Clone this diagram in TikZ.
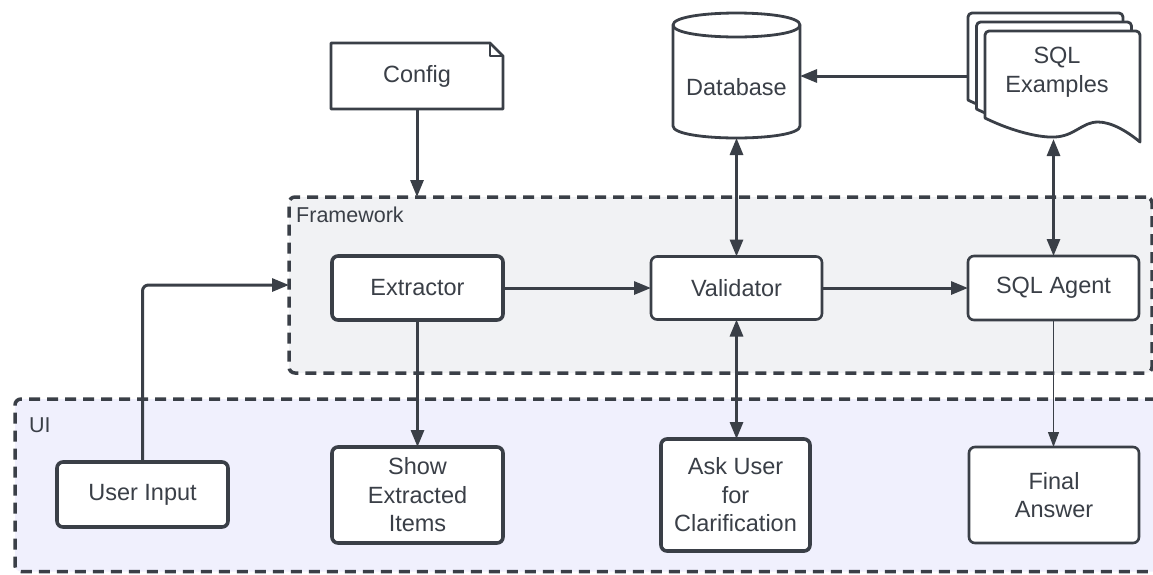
\documentclass[tikz,border=0pt]{standalone}
\usepackage{fontspec}
\setmainfont{Liberation Sans}
\usetikzlibrary{arrows.meta,calc}
\definecolor{ln}{HTML}{3A3F47}
\definecolor{fwfill}{HTML}{F1F2F4}
\definecolor{uifill}{HTML}{F0F0FD}
\newcommand\dgboxfont{\fontsize{23.5}{28.5}\selectfont}
\newcommand\dglblfont{\fontsize{21.5}{25}\selectfont}
\newcommand\dgdoc[2]{%
  \draw[shp, fill=white, shift={(#1,#2)}] (985,118) [rounded corners=4pt] -- (985,31) -- (1140,31) [sharp corners] -- (1140,142)
    .. controls (1128,132) and (1112,122) .. (1098,122)
    .. controls (1082,122) and (1075,136) .. (1055,137)
    .. controls (1035,138) and (1005,128) .. cycle;}
\begin{document}
\begin{tikzpicture}[x=1pt,y=-1pt,
  container/.style={draw=ln, line width=3.5pt, dash pattern=on 11pt off 7pt, rounded corners=6pt, inner sep=0pt, outer sep=0pt},
  boxthick/.style={draw=ln, fill=white, line width=3.6pt, rounded corners=6pt, text=ln, align=center, font=\dgboxfont, inner sep=0pt, outer sep=0pt},
  boxthin/.style={boxthick, line width=2.6pt},
  shp/.style={draw=ln, line width=2.8pt, line join=round},
  arr/.style={draw=ln, line width=3pt, -{Triangle[length=17pt,width=13pt]}},
  darr/.style={draw=ln, line width=3pt, {Triangle[length=17pt,width=13pt]}-{Triangle[length=17pt,width=13pt]}},
  thinarr/.style={draw=ln, line width=1.1pt, -{Triangle[length=15pt,width=11pt]}},
  lbl/.style={text=ln, font=\dglblfont, inner sep=0pt},
  txt/.style={text=ln, font=\dgboxfont, align=center, inner sep=0pt, outer sep=0pt}
]
\useasboundingbox (0,0) rectangle (1153,574);
% containers
\node[container, fill=fwfill, minimum width=863pt, minimum height=176pt, anchor=north west] (fw) at (289,197) {};
\node[container, fill=uifill, minimum width=1147pt, minimum height=172.5pt, anchor=north west] (ui) at (15,399) {};
\node[lbl, anchor=base west] (fwl) at (296,222) {Framework};
\node[lbl, anchor=base west] (uil) at (29,432) {UI};
% config
\draw[shp, fill=white] (331,109) -- (331,43) -- (490,43) -- (503,56) -- (503,109) -- cycle;
\draw[shp] (490,43) -- (490,56) -- (503,56);
\node[txt, minimum width=172pt, minimum height=66pt] (cfg) at (417,76) {Config};
% database
\draw[shp, fill=white] (673,25) -- (673,126) .. controls (673,142) and (800,142) .. (800,126) -- (800,25) .. controls (800,9) and (673,9) .. cycle;
\draw[shp] (673,25) .. controls (673,41) and (800,41) .. (800,25);
\node[txt, minimum width=127pt, minimum height=101pt] (db) at (736.5,87.5) {Database};
% SQL examples
\dgdoc{-17}{-18}
\dgdoc{-8.5}{-9}
\dgdoc{0}{0}
\node[txt] (sqex) at (1057,72) {SQL\\Examples};
\coordinate (sqleft) at (968,76);
\coordinate (sqbot) at (1054,139);
% process boxes
\node[boxthick, minimum width=171pt, minimum height=64pt] (ext) at (417.5,288) {Extractor};
\node[boxthin, minimum width=171pt, minimum height=63pt] (val) at (736.5,288) {Validator};
\node[boxthin, minimum width=171pt, minimum height=64pt] (sqa) at (1053.5,288) {SQL Agent};
\node[boxthick, minimum width=171pt, minimum height=65pt] (uin) at (142.5,494.5) {User Input};
\node[boxthick, minimum width=171pt, minimum height=96pt] (show) at (417.5,495) {Show\\Extracted\\Items};
\node[boxthick, minimum width=149pt, minimum height=112pt] (ask) at (735.5,495) {Ask User\\for\\Clarification};
\node[boxthin, minimum width=170pt, minimum height=96pt] (fin) at (1054,495) {Final\\Answer};
% connectors
\draw[arr] (cfg.south) -- (cfg.south |- fw.north);
\draw[arr, rounded corners=6pt] (uin.north) |- (fw.west);
\draw[arr] (ext) -- (val);
\draw[arr] (val) -- (sqa);
\draw[arr] (ext) -- (show);
\draw[darr] (val.south) -- (val.south |- ask.north);
\draw[darr] (val.north) -- (db.south);
\draw[darr] (sqa.north) -- (sqa.north |- sqbot);
\draw[arr] (sqleft) -- (sqleft -| db.east);
\draw[thinarr] (sqa.south) -- (sqa.south |- fin.north);
\end{tikzpicture}
\end{document}
